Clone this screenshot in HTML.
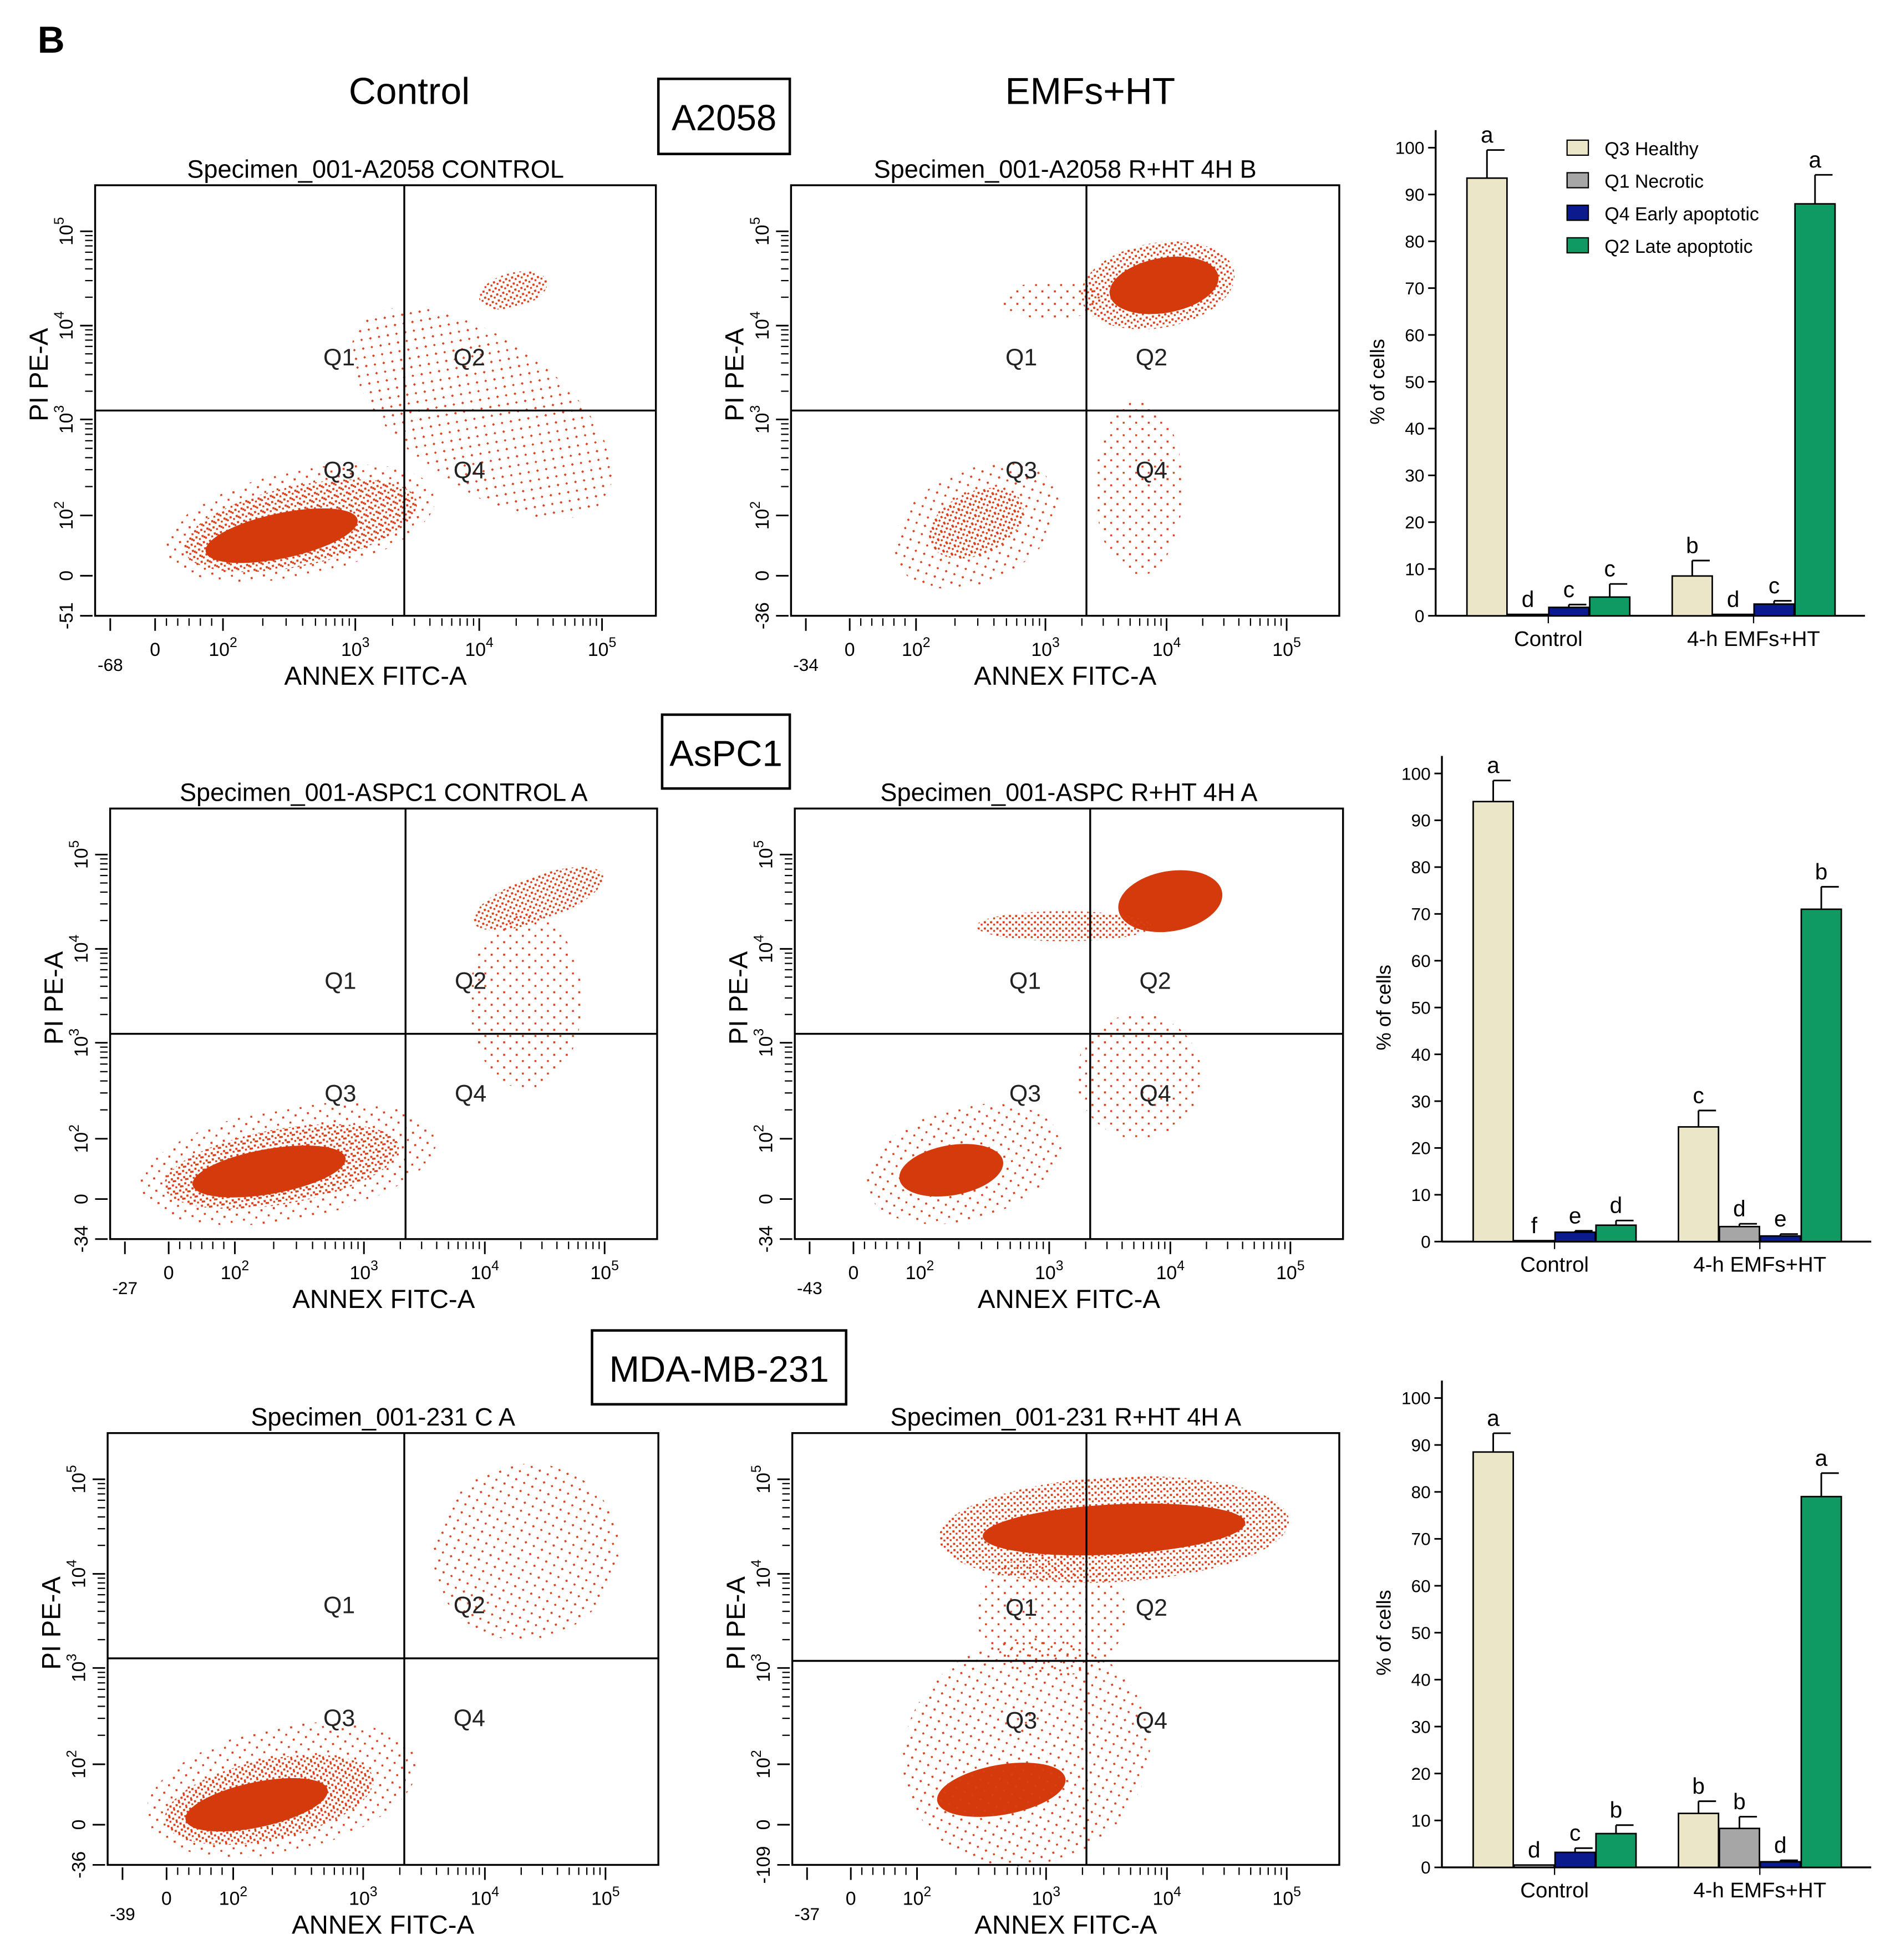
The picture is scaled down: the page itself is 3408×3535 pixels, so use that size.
<!DOCTYPE html>
<html><head><meta charset="utf-8"><style>
html,body{margin:0;padding:0;background:#fff}
svg{display:block;font-family:"Liberation Sans",sans-serif}
</style></head><body>
<svg id="fig" xmlns="http://www.w3.org/2000/svg" width="3408" height="3535" viewBox="0 0 1510 1566" preserveAspectRatio="none">
<defs>
<pattern id="dots" width="5" height="5" patternUnits="userSpaceOnUse"><rect x="1" y="1" width="1.7" height="1.7" fill="#d8401a"/><rect x="3.5" y="3" width="1.5" height="1.5" fill="#d8401a"/></pattern>
<pattern id="dots2" width="10" height="10" patternUnits="userSpaceOnUse"><rect x="2" y="2" width="1.6" height="1.6" fill="#d8401a"/><rect x="7" y="7" width="1.5" height="1.5" fill="#d8401a"/></pattern>
</defs>
<text x="30" y="42" font-size="30" font-weight="bold">B</text>
<text x="327" y="83" font-size="30" text-anchor="middle">Control</text>
<text x="871" y="83" font-size="30" text-anchor="middle">EMFs+HT</text>
<g><rect x="526" y="63" width="105" height="60" fill="none" stroke="#000" stroke-width="2"/><text x="578.5" y="104" font-size="29" text-anchor="middle">A2058</text></g>
<g><rect x="529" y="571" width="102" height="59" fill="none" stroke="#000" stroke-width="2"/><text x="580" y="612" font-size="29" text-anchor="middle">AsPC1</text></g>
<g><rect x="473" y="1063" width="203" height="59" fill="none" stroke="#000" stroke-width="2"/><text x="574.5" y="1104" font-size="29" text-anchor="middle">MDA-MB-231</text></g>
</svg>
<script>
const NS="http://www.w3.org/2000/svg";
const fig=document.getElementById('fig');
function el(tag,a,p){const e=document.createElementNS(NS,tag);for(const k in a)e.setAttribute(k,a[k]);(p||fig).appendChild(e);return e;}
function txt(s,a,p){const e=el('text',a,p);e.textContent=s;return e;}

// ---------- Scatter plots ----------
const plotTitles=["Specimen_001-A2058 CONTROL","Specimen_001-A2058 R+HT 4H B","Specimen_001-ASPC1 CONTROL A","Specimen_001-ASPC R+HT 4H A","Specimen_001-231 C A","Specimen_001-231 R+HT 4H A"];
const plotXMin=["-68","-34","-27","-43","-39","-37"];
const plotYMin=["-51","-36","-34","-34","-36","-109"];
const frames=[[76,148,524,492],[632,148,1070,492],[88,646,525,990],[635,646,1073,990],[86,1145,526,1490],[633,1145,1070,1490]];
const gates=[[323,328],[868,328],[324,826],[871,826],[323,1325],[868,1327]];
// clusters: [cx,cy,rx,ry,rot,type] type 0 core,1 dense dots,2 sparse dots
const clusters=[
 [[240,418,110,42,-12,2],[240,420,95,32,-12,1],[225,428,62,18,-12,0],[385,330,60,120,-55,2],[410,232,28,14,-15,1]],
 [[780,420,70,45,-25,2],[780,418,40,25,-25,1],[910,390,35,70,0,2],[925,228,62,34,-10,1],[930,228,44,22,-10,0],[840,240,40,15,0,2]],
 [[230,930,120,45,-10,2],[225,932,95,30,-10,1],[215,936,62,18,-10,0],[430,718,55,18,-20,1],[420,800,45,70,0,2]],
 [[770,930,80,45,-15,2],[760,935,42,20,-10,0],[935,720,42,24,-10,0],[850,740,70,12,0,1],[910,860,50,50,0,2]],
 [[225,1430,110,50,-12,2],[215,1438,85,32,-12,1],[205,1442,58,18,-12,0],[420,1240,75,70,-20,2]],
 [[890,1222,140,42,-3,1],[890,1222,105,20,-3,0],[800,1430,52,20,-10,0],[820,1400,100,90,-20,2],[840,1290,60,50,0,2]]
];
const xTickLbl=[null,"0","10","10","10","10"], xTickExp=["","","2","3","4","5"];
const tickFracX=[0.027,0.107,0.228,0.464,0.685,0.904];
const tickFracY=[0.107,0.326,0.544,0.767,0.907,1.0];
const yTickTxt=["10","10","10","10","0",""], yTickExp=["5","4","3","2","",""];

frames.forEach((f,i)=>{
 const g=el('g',{});
 
 
 const [x0,y0,x1,y1]=f, w=x1-x0, h=y1-y0;
 const cg=el('g',{},g);
 clusters[i].forEach(c=>{
  const fill=c[5]===0?'#d43a0c':c[5]===1?'url(#dots)':'url(#dots2)';
  const e=el('ellipse',{cx:c[0],cy:c[1],rx:c[2],ry:c[3],fill:fill,transform:`rotate(${c[4]} ${c[0]} ${c[1]})`},cg);
  
  
 });
 const fr=el('rect',{x:x0,y:y0,width:w,height:h,fill:'none',stroke:'#000','stroke-width':1.5},g);
 
 
 const [vx,hy]=gates[i];
 const vl=el('line',{x1:vx,y1:y0,x2:vx,y2:y1,stroke:'#000','stroke-width':1.5},g);
 
 
 const hl=el('line',{x1:x0,y1:hy,x2:x1,y2:hy,stroke:'#000','stroke-width':1.5},g);
 
 
 const qx1=vx-52, qx2=vx+52, qy1=hy-36, qy2=hy+54;
 [["Q1",qx1,qy1],["Q2",qx2,qy1],["Q3",qx1,qy2],["Q4",qx2,qy2]].forEach(q=>{
  const t=txt(q[0],{x:q[1],y:q[2],'font-size':19,'text-anchor':'middle',fill:'#222'},g);
  
  
 });
 const tt=txt(plotTitles[i],{x:x0+w/2,y:y0-6,'font-size':20,'text-anchor':'middle'},g);
 
 
 const xl=txt("ANNEX FITC-A",{x:x0+w*0.5,y:y1+55,'font-size':21,'text-anchor':'middle'},g);
 
 
 const yl=txt("PI PE-A",{x:0,y:0,'font-size':21,'text-anchor':'middle',transform:`translate(${x0-38},${y0+h*0.44}) rotate(-90)`},g);
 
 
 tickFracX.forEach((fx,k)=>{
  const x=x0+fx*w;
  el('line',{x1:x,y1:y1+2,x2:x,y2:y1+12,stroke:'#000','stroke-width':1.3},g);
  if(k>=2&&k<5){const dx=(tickFracX[k+1]-fx)*w;for(let m=2;m<10;m++){const xx=x+Math.log10(m)*dx;el('line',{x1:xx,y1:y1+2,x2:xx,y2:y1+8,stroke:'#000','stroke-width':1},g);}}
  if(k===1){for(let m=1;m<6;m++){const xx=x+m*(tickFracX[2]-fx)*w/6;el('line',{x1:xx,y1:y1+2,x2:xx,y2:y1+8,stroke:'#000','stroke-width':1},g);}}
  const lbl=k===0?plotXMin[i]:xTickLbl[k];
  const t=txt(lbl,{x:x,y:y1+(k===0?44:32),'font-size':k===0?14:15,'text-anchor':'middle'},g);
  if(xTickExp[k]){const s=el('tspan',{dy:-7,'font-size':11},t);s.textContent=xTickExp[k];}
  
  
 });
 tickFracY.forEach((fy,k)=>{
  const y=y0+fy*h;
  el('line',{x1:x0-12,y1:y,x2:x0-2,y2:y,stroke:'#000','stroke-width':1.3},g);
  if(k<3){const dy=(tickFracY[k+1]-fy)*h;for(let m=2;m<10;m++){const yy=y+dy-Math.log10(m)*dy;el('line',{x1:x0-8,y1:yy,x2:x0-2,y2:yy,stroke:'#000','stroke-width':1},g);}}
  const lbl=k===5?plotYMin[i]:yTickTxt[k];
  const t=txt(lbl,{x:0,y:0,'font-size':15,'text-anchor':'middle',transform:`translate(${x0-18},${y}) rotate(-90)`},g);
  if(yTickExp[k]){const s=el('tspan',{dy:-7,'font-size':11},t);s.textContent=yTickExp[k];}
  
  
 });
});

// ---------- Bar charts ----------
const seriesNames=["Q3 Healthy","Q1 Necrotic","Q4 Early apoptotic","Q2 Late apoptotic"];
const groups=["Control","4-h EMFs+HT"];
const yTicks=[0,10,20,30,40,50,60,70,80,90,100];
const vals1=[[93.5,0.3,1.8,4.0],[8.5,0.3,2.5,88]];
const errs1=[[6,0,0.6,2.8],[3.3,0,0.7,6.2]];
const lets1=[["a","d","c","c"],["b","d","c","a"]];
const vals2=[[94,0.2,2.0,3.5],[24.5,3.2,1.2,71]];
const errs2=[[4.5,0,0.3,1.0],[3.5,0.6,0.4,4.8]];
const lets2=[["a","f","e","d"],["c","d","e","b"]];
const vals3=[[88.5,0.5,3.2,7.2],[11.5,8.3,1.2,79]];
const errs3=[[4,0,0.9,1.8],[2.6,2.5,0.3,5]];
const lets3=[["a","d","c","b"],["b","b","d","a"]];
const colors=["#ece6c9","#a6a6a6","#0b1a8c","#0e9a62"];
const bars=[{ax:1147,top:118,bot:492,v:vals1,e:errs1,l:lets1,legend:true},
 {ax:1152,top:618,bot:992,v:vals2,e:errs2,l:lets2},
 {ax:1152,top:1117,bot:1492,v:vals3,e:errs3,l:lets3}];
bars.forEach((b,i)=>{
 const g=el('g',{});
 
 
 const ys=v=>b.bot-(v/100)*(b.bot-b.top);
 const gx=[b.ax+25,b.ax+189], bw=32;
 el('line',{x1:b.ax,y1:b.top-14,x2:b.ax,y2:b.bot,stroke:'#000','stroke-width':1.5},g);
 el('line',{x1:b.ax,y1:b.bot,x2:b.ax+343,y2:b.bot,stroke:'#000','stroke-width':1.5},g);
 yTicks.forEach(t=>{
  el('line',{x1:b.ax-6,y1:ys(t),x2:b.ax,y2:ys(t),stroke:'#000','stroke-width':1.3},g);
  const tl=txt(String(t),{x:b.ax-9,y:ys(t)+5,'font-size':14,'text-anchor':'end'},g);
  
  
 });
 const yt=txt("% of cells",{x:0,y:0,'font-size':16,'text-anchor':'middle',transform:`translate(${b.ax-41},${ys(50)}) rotate(-90)`},g);
 
 
 [b.ax+90,b.ax+254].forEach(x=>el('line',{x1:x,y1:b.bot,x2:x,y2:b.bot+6,stroke:'#000'},g));
 groups.forEach((gn,gi)=>{
  const gl=txt(gn,{x:gx[gi]+65,y:b.bot+24,'font-size':17,'text-anchor':'middle'},g);
  
  
  b.v[gi].forEach((v,si)=>{
   const x=gx[gi]+si*32.7, y=ys(v);
   const r=el('rect',{x:x,y:y,width:bw,height:b.bot-y,fill:colors[si],stroke:'#000','stroke-width':1.2},g);
   
   
   const ey=ys(v+b.e[gi][si]);
   if(b.e[gi][si]>0){
    el('line',{x1:x+bw/2,y1:y,x2:x+bw/2,y2:ey,stroke:'#000','stroke-width':1.3},g);
    el('line',{x1:x+bw/2,y1:ey,x2:x+bw-2,y2:ey,stroke:'#000','stroke-width':1.3},g);
   }
   const lt=txt(b.l[gi][si],{x:x+bw/2,y:ey-6,'font-size':18,'text-anchor':'middle'},g);
   
   
  });
 });
 if(b.legend){
  seriesNames.forEach((s,si)=>{
   const y=118+si*26;
   const lg=el('g',{},g);
   
   
   el('rect',{x:1252,y:y-6,width:17,height:12,fill:colors[si],stroke:'#000'},lg);
   txt(s,{x:1282,y:y+6,'font-size':15},lg);
  });
 }
});
</script>
</body></html>
